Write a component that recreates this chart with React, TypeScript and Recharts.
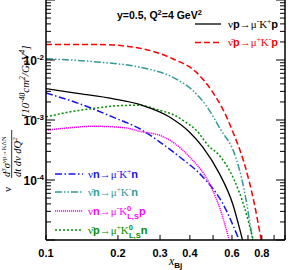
import { LineChart, Line, XAxis, YAxis } from 'recharts';

// curves (x = x_Bj, y = cross section)
const blackX = [0.1, 0.1377, 0.1897, 0.2529, 0.3286, 0.398, 0.452, 0.531, 0.603, 0.664];
const blackY = [0.00333, 0.00275, 0.00227, 0.00176, 0.001125, 0.000633, 0.000357, 0.000129, 0.000041, 0.00001];

const redX = [0.1, 0.168, 0.254, 0.339, 0.425, 0.498, 0.557, 0.613, 0.675, 0.743, 0.795];
const redY = [0.0181, 0.0181, 0.01535, 0.01047, 0.00627, 0.00292, 0.00136, 0.000558, 0.000191, 0.0000415, 0.00001];

const blueX = [0.1, 0.1377, 0.1897, 0.2529, 0.2985, 0.362, 0.452, 0.548, 0.643];
const blueY = [0.00281, 0.001875, 0.001125, 0.000676, 0.000433, 0.000244, 0.0001135, 0.000041, 0.00001];

const tealX = [0.1, 0.168, 0.246, 0.338, 0.411, 0.467, 0.54, 0.613, 0.675, 0.731];
const tealY = [0.01047, 0.00919, 0.0076, 0.00518, 0.00312, 0.001757, 0.000676, 0.000281, 0.000068, 0.00001];

const pinkX = [0.1, 0.129, 0.1565, 0.2088, 0.2529, 0.2985, 0.3424, 0.398, 0.482, 0.548, 0.584];
const pinkY = [0.000676, 0.00075, 0.000787, 0.00075, 0.000633, 0.000558, 0.000416, 0.000244, 0.000088, 0.0000246, 0.00001];

const greenX = [0.1, 0.125, 0.1565, 0.2, 0.2446, 0.2985, 0.345, 0.3795, 0.4246, 0.482, 0.522, 0.613, 0.675, 0.736];
const greenY = [0.001125, 0.00136, 0.00155, 0.00173, 0.00176, 0.00145, 0.0012, 0.00095, 0.00068, 0.00036, 0.000277, 0.0001, 0.000036, 0.00001];

const xTicks = [0.1, 0.2, 0.3, 0.4, 0.5, 0.6, 0.7, 0.8, 0.9, 1];
const xLabels = [0.1, 0.2, 0.3, 0.4, 0.6, 0.8];
const yDecades = [1e-5, 1e-4, 1e-3, 1e-2];
const yMinor = [1, 2, 3, 4, 5, 6, 7, 8, 9];
const yLabels = [1e-2, 1e-3, 1e-4];

const yTicks = [...yDecades.flatMap((d) => yMinor.map((m) => m * d)), 1e-1];

const SANS = "'Liberation Sans', Arial, Helvetica, sans-serif";
const SERIF = "'Liberation Serif', 'DejaVu Serif', serif";

const BLUE = '#1414f0';
const TEAL = '#339999';
const PINK = '#ff00ff';
const GREEN = '#008f00';
const RED = '#ff0000';

const toData = (xs: number[], ys: number[]) => xs.map((x, i) => ({ x, y: ys[i] }));

const isDecade = (v: number) => {
  const e = Math.round(Math.log10(v));
  return Math.abs(v / Math.pow(10, e) - 1) < 1e-6;
};

function XTick({ x, y, payload }: any) {
  const v = payload.value;
  const lab = xLabels.find((l) => Math.abs(l - v) < 1e-9);
  return (
    <g>
      <line x1={x} x2={x} y1={y} y2={y - 5} stroke="#000" strokeWidth={1} />
      {lab !== undefined && (
        <text x={x} y={y + 17} textAnchor="middle" fontFamily={SANS} fontWeight="bold" fontSize={11} fill="#000">
          {lab}
        </text>
      )}
    </g>
  );
}

function YTickLeft({ x, y, payload }: any) {
  const v = payload.value;
  const major = isDecade(v);
  const lab = yLabels.find((l) => Math.abs(l / v - 1) < 1e-6);
  return (
    <g>
      <line x1={x} x2={x + (major ? 9 : 5)} y1={y} y2={y} stroke="#000" strokeWidth={1} />
      {lab !== undefined && (
        <text x={x - 2} y={y + 4.5} textAnchor="end" fontFamily={SANS} fontWeight="bold" fontSize={12} fill="#000">
          10
          <tspan fontSize={8} dy={-5}>
            {Math.round(Math.log10(lab))}
          </tspan>
        </text>
      )}
    </g>
  );
}

function YTickRight({ x, y, payload }: any) {
  const major = isDecade(payload.value);
  return <line x1={x} x2={x - (major ? 9 : 5)} y1={y} y2={y} stroke="#000" strokeWidth={1} />;
}

function Reaction({ x, y, fill, anti, tgt, lep, kc, neutral, fin }: any) {
  const bold = { fontFamily: SANS, fontWeight: 'bold' as const };
  return (
    <text x={x} y={y} fill={fill} fontSize={11} fontFamily={SERIF}>
      <tspan>{anti ? 'ν\u0304' : 'ν'}</tspan>
      <tspan {...bold}>{tgt}</tspan>
      <tspan>→μ</tspan>
      <tspan fontSize={7.5} dy={-4}>{lep}</tspan>
      <tspan dy={4}>K</tspan>
      {neutral ? (
        <>
          <tspan {...bold} fontSize={7.5} dy={-4}>0</tspan>
          <tspan {...bold} fontSize={7.5} dx={-4} dy={8}>L,S</tspan>
          <tspan {...bold} dy={-4}>{fin}</tspan>
        </>
      ) : (
        <>
          <tspan fontSize={7.5} dy={-4}>{kc}</tspan>
          <tspan {...bold} dy={4}>{fin}</tspan>
        </>
      )}
    </text>
  );
}

export default function App() {
  const axisLine = { stroke: '#000', strokeWidth: 1.5 };
  return (
    <div style={{ position: 'absolute', left: 0, top: 0, width: 296, height: 270, background: '#fff' }}>
      <LineChart width={296} height={270} margin={{ top: 0, right: 0, bottom: 0, left: 0 }}>
        <XAxis
          dataKey="x"
          type="number"
          scale="log"
          domain={[0.1, 1]}
          allowDataOverflow
          ticks={xTicks}
          interval={0}
          height={30}
          tickSize={0}
          tickMargin={0}
          tickLine={false}
          axisLine={axisLine}
          tick={<XTick />}
        />
        <YAxis
          dataKey="y"
          type="number"
          scale="log"
          domain={[1e-5, 1e-1]}
          allowDataOverflow
          ticks={yTicks}
          interval={0}
          width={46}
          tickSize={0}
          tickMargin={0}
          tickLine={false}
          axisLine={axisLine}
          tick={<YTickLeft />}
        />
        <YAxis
          yAxisId="r"
          orientation="right"
          type="number"
          scale="log"
          domain={[1e-5, 1e-1]}
          allowDataOverflow
          ticks={yTicks}
          interval={0}
          width={11}
          tickSize={0}
          tickMargin={0}
          tickLine={false}
          axisLine={axisLine}
          tick={<YTickRight />}
        />
        <Line data={toData(redX, redY)} dataKey="y" type="monotone" stroke={RED} strokeWidth={1.5} strokeDasharray="6 3" dot={false} activeDot={false} isAnimationActive={false} />
        <Line data={toData(tealX, tealY)} dataKey="y" type="monotone" stroke={TEAL} strokeWidth={1.5} strokeDasharray="7 2 1.5 2 1.5 2" dot={false} activeDot={false} isAnimationActive={false} />
        <Line data={toData(greenX, greenY)} dataKey="y" type="monotone" stroke={GREEN} strokeWidth={1.5} strokeDasharray="2 2" dot={false} activeDot={false} isAnimationActive={false} />
        <Line data={toData(blackX, blackY)} dataKey="y" type="monotone" stroke="#000" strokeWidth={1.3} dot={false} activeDot={false} isAnimationActive={false} />
        <Line data={toData(blueX, blueY)} dataKey="y" type="monotone" stroke={BLUE} strokeWidth={1.5} strokeDasharray="7 2.5 1.5 2.5" dot={false} activeDot={false} isAnimationActive={false} />
        <Line data={toData(pinkX, pinkY)} dataKey="y" type="monotone" stroke={PINK} strokeWidth={1.5} strokeDasharray="1.2 0.8" dot={false} activeDot={false} isAnimationActive={false} />
      </LineChart>

      <svg width={296} height={270} style={{ position: 'absolute', left: 0, top: 0, pointerEvents: 'none' }}>
        <text x={117} y={19} fontFamily={SANS} fontWeight="bold" fontSize={10.5} fill="#000">
          y=0.5, Q<tspan fontSize={7.5} dy={-4}>2</tspan>
          <tspan dy={4}>=4 GeV</tspan>
          <tspan fontSize={7.5} dy={-4}>2</tspan>
        </text>

        <line x1={195} x2={221} y1={24} y2={24} stroke="#000" strokeWidth={1.3} />
        <Reaction x={228} y={28} fill="#000" tgt="p" lep="-" kc="+" fin="p" />
        <line x1={195} x2={222} y1={42.5} y2={42.5} stroke={RED} strokeWidth={1.5} strokeDasharray="6 3" />
        <Reaction x={228} y={46} fill={RED} anti tgt="p" lep="+" kc="-" fin="p" />

        <line x1={55} x2={83} y1={174} y2={174} stroke={BLUE} strokeWidth={1.5} strokeDasharray="7 2.5 1.5 2.5" />
        <Reaction x={88} y={178} fill={BLUE} tgt="n" lep="-" kc="+" fin="n" />
        <line x1={55} x2={83} y1={192} y2={192} stroke={TEAL} strokeWidth={1.5} strokeDasharray="7 2 1.5 2 1.5 2" />
        <Reaction x={88} y={196} fill={TEAL} anti tgt="n" lep="+" kc="-" fin="n" />
        <line x1={55} x2={83} y1={211} y2={211} stroke={PINK} strokeWidth={1.5} strokeDasharray="1.2 0.8" />
        <Reaction x={88} y={215} fill={PINK} tgt="n" lep="-" neutral fin="p" />
        <line x1={55} x2={83} y1={230} y2={230} stroke={GREEN} strokeWidth={1.5} strokeDasharray="2 2" />
        <Reaction x={88} y={234} fill={GREEN} anti tgt="p" lep="+" neutral fin="n" />

        <text x={169} y={265} fontFamily={SERIF} fontStyle="italic" fontSize={12} fill="#000">
          x
          <tspan fontFamily={SANS} fontStyle="normal" fontWeight="bold" fontSize={8} dy={3}>
            Bj
          </tspan>
        </text>

        <g transform="rotate(-90)">
          <text x={-192} y={10.5} fontFamily={SERIF} fontSize={11} fill="#000">ν</text>
          <text x={-177} y={9.5} fontFamily={SERIF} fontStyle="italic" fontSize={10.5} fill="#000">
            d<tspan fontSize={7} dy={-4}>3</tspan>
            <tspan dy={4}>σ</tspan>
            <tspan fontSize={6.5} fontStyle="normal" dy={-4}>νp→KΛN</tspan>
          </text>
          <line x1={-178} x2={-130} y1={11.7} y2={11.7} stroke="#000" strokeWidth={0.8} />
          <text x={-177} y={20.5} fontFamily={SERIF} fontStyle="italic" fontSize={10.5} fill="#000">
            dt dν dQ<tspan fontSize={7} dy={-4}>2</tspan>
          </text>
          <text x={-118} y={29} fontFamily={SERIF} fontStyle="italic" fontSize={11} fill="#000">
            [10<tspan fontSize={7.5} dy={-4}>-40</tspan>
            <tspan dy={4}>cm</tspan>
            <tspan fontSize={7.5} dy={-4}>2</tspan>
            <tspan dy={4}>/GeV</tspan>
            <tspan fontSize={7.5} dy={-4}>4</tspan>
            <tspan dy={4}>]</tspan>
          </text>
        </g>
      </svg>
    </div>
  );
}
